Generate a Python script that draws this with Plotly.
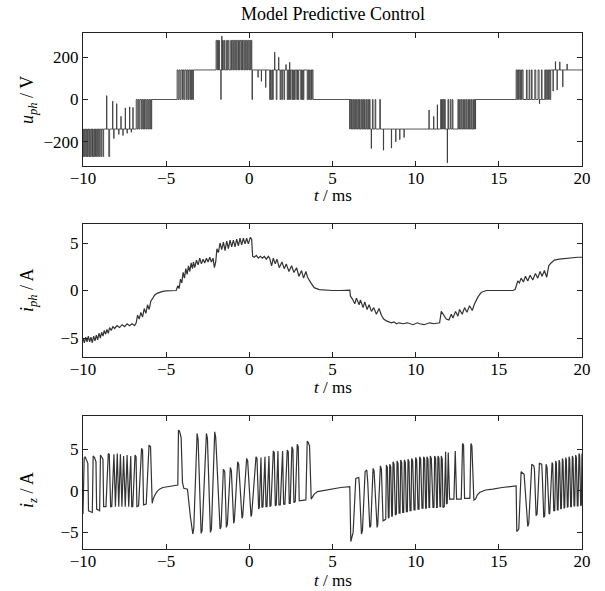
import plotly.graph_objects as go

# ---------------- u_ph (phase voltage, V) ----------------
# base level changes (t in ms, level in V)
U_BASE_T = [-10.0, -5.87, -3.36, 3.83, 6.04, 13.60, 18.12]
U_BASE_V = [-140, 0, 140, 0, -140, 0, 140]

# switching pulses (start, end) and their level
U_P_M270 = [(-10.00, -9.96), (-9.92, -9.87), (-9.83, -9.78), (-9.74, -9.70), (-9.65, -9.60),
            (-9.57, -9.52), (-9.47, -9.43), (-9.39, -9.34), (-9.30, -9.25), (-9.21, -9.17),
            (-9.12, -9.08), (-9.03, -8.99), (-8.93, -8.88), (-8.80, -8.76), (-8.45, -8.40)]
U_P_0A = [(-6.80, -6.74), (-6.68, -6.63), (-6.58, -6.50), (-6.46, -6.41), (-6.36, -6.30),
          (-6.26, -6.20), (-6.15, -6.10), (-6.05, -5.99), (-5.95, -5.90)]
U_P_140A = [(-4.34, -4.28), (-4.22, -4.16), (-4.10, -4.02), (-3.98, -3.93), (-3.88, -3.80),
            (-3.76, -3.70), (-3.65, -3.58), (-3.54, -3.48), (-3.44, -3.40)]
U_P_280 = [(-2.00, -1.95), (-1.91, -1.86), (-1.83, -1.79), (-1.61, -1.56), (-1.50, -1.46),
           (-1.37, -1.32), (-1.27, -1.22), (-1.12, -1.07), (-1.03, -0.98), (-0.94, -0.88),
           (-0.84, -0.79), (-0.75, -0.69), (-0.65, -0.60), (-0.56, -0.50), (-0.46, -0.41),
           (-0.37, -0.31), (-0.27, -0.22), (-0.18, -0.12), (-0.08, -0.03), (0.02, 0.08),
           (0.11, 0.15)]
U_P_0B = [(0.16, 0.19), (1.22, 1.27), (1.31, 1.36), (1.40, 1.44), (1.62, 1.66), (1.85, 1.89),
          (1.95, 1.99), (2.08, 2.12), (2.28, 2.32), (2.36, 2.41), (2.44, 2.48), (2.56, 2.60),
          (2.64, 2.68), (2.71, 2.76), (2.85, 2.89), (2.93, 2.97), (3.09, 3.13), (3.17, 3.21),
          (3.24, 3.28), (3.48, 3.53), (3.57, 3.61), (3.65, 3.70), (3.74, 3.78)]
U_P_0C = [(6.04, 6.10), (6.14, 6.19), (6.24, 6.28), (6.33, 6.38), (6.43, 6.47), (6.52, 6.57),
          (6.62, 6.66), (6.72, 6.76), (6.81, 6.86), (6.92, 6.96), (7.02, 7.06), (7.12, 7.16),
          (7.22, 7.26), (7.40, 7.44), (7.56, 7.60), (7.84, 7.88),
          (11.50, 11.55), (11.58, 11.62), (11.66, 11.70), (11.74, 11.78), (11.94, 11.98),
          (12.08, 12.12), (12.20, 12.24), (12.54, 12.58), (12.64, 12.68), (12.74, 12.78),
          (12.84, 12.88), (12.94, 12.98), (13.04, 13.08), (13.14, 13.18), (13.24, 13.28),
          (13.34, 13.38), (13.44, 13.48), (13.54, 13.58)]
U_P_140B = [(16.04, 16.09), (16.13, 16.18), (16.22, 16.27), (16.31, 16.36), (16.40, 16.46),
            (16.66, 16.70), (16.82, 16.86), (16.96, 17.00), (17.16, 17.22), (17.36, 17.42),
            (17.56, 17.60), (17.76, 17.81), (17.85, 17.90), (17.94, 17.99), (18.03, 18.08)]
# narrow spikes (t, value)
U_SPIKES = [(-8.58, 18), (-8.22, -8), (-8.15, -185), (-7.98, -20), (-7.85, -165), (-7.72, -80),
            (-7.60, -170), (-7.46, -40), (-7.35, -160), (-7.20, -35), (-7.10, -155), (-7.00, -38),
            (-1.71, 0), (-1.66, 300), (0.52, 105), (0.72, 86), (0.98, 57), (1.52, 224),
            (1.76, 200), (2.20, 165), (2.42, 176), (7.33, -232), (8.06, -240), (8.54, -230),
            (8.80, -200), (9.04, -190), (9.30, -180), (10.80, -50), (11.08, -80), (11.30, -25),
            (11.90, -300), (17.44, -20), (18.26, 40), (18.40, 180), (18.50, 45), (18.66, 178),
            (18.84, 60), (19.10, 168)]

# ---------------- i_ph (phase current, A) ----------------
IPH_T = [-10.00, -9.92, -9.84, -9.76, -9.68, -9.60, -9.52, -9.44, -9.36, -9.28, -9.20, -9.12,
         -9.04, -8.96, -8.88, -8.80, -8.72, -8.64, -8.56, -8.48, -8.40, -8.30, -8.20, -8.10,
         -7.95, -7.80, -7.65, -7.50, -7.35, -7.20, -7.05, -6.90, -6.80, -6.72, -6.62, -6.52,
         -6.42, -6.32, -6.22, -6.12, -6.02, -5.92, -5.80, -5.70, -5.55, -5.40, -5.20, -5.00,
         -4.70, -4.40, -4.30, -4.22, -4.14, -4.06, -3.98, -3.90, -3.82, -3.74, -3.66, -3.58,
         -3.50, -3.42, -3.36, -3.28, -3.18, -3.08, -2.98, -2.88, -2.78, -2.68, -2.58, -2.48,
         -2.38, -2.28, -2.18, -2.10, -2.02, -1.95, -1.86, -1.76, -1.66, -1.56, -1.46, -1.36,
         -1.26, -1.16, -1.06, -0.96, -0.86, -0.76, -0.66, -0.56, -0.46, -0.36, -0.26, -0.16,
         -0.06, 0.06, 0.14, 0.20, 0.30, 0.42, 0.54, 0.66, 0.78, 0.90, 1.02, 1.14, 1.22, 1.34,
         1.44, 1.56, 1.66, 1.80, 1.96, 2.10, 2.22, 2.38, 2.54, 2.68, 2.84, 2.98, 3.14, 3.26,
         3.40, 3.50, 3.70, 3.90, 4.20, 4.50, 5.00, 5.50, 6.04, 6.08, 6.20, 6.34, 6.44, 6.60,
         6.68, 6.84, 6.94, 7.08, 7.20, 7.34, 7.48, 7.64, 7.80, 7.94, 8.08, 8.24, 8.40, 8.54,
         8.70, 8.84, 9.00, 9.24, 9.50, 9.84, 10.10, 10.24, 10.50, 10.84, 11.10, 11.44, 11.54,
         11.68, 11.84, 12.00, 12.14, 12.24, 12.40, 12.54, 12.64, 12.80, 12.94, 13.08, 13.24,
         13.40, 13.54, 13.74, 13.94, 14.24, 15.04, 15.84, 15.98, 16.14, 16.24, 16.34, 16.48,
         16.60, 16.74, 16.88, 17.04, 17.20, 17.34, 17.48, 17.60, 17.74, 17.88, 18.00, 18.14,
         18.34, 18.64, 19.04, 19.44, 19.74, 20.00]
IPH_V = [-5.0, -5.5, -4.9, -5.4, -4.8, -5.4, -4.9, -5.5, -4.8, -5.3, -4.7, -5.2,
         -4.5, -5.0, -4.4, -4.8, -4.2, -4.6, -4.1, -4.5, -3.9, -4.2, -3.8, -4.0,
         -3.7, -3.9, -3.6, -3.8, -3.5, -3.7, -3.5, -3.7, -3.4, -2.6, -3.0, -2.3,
         -2.8, -1.9, -2.4, -1.5, -2.0, -1.1, -0.8, -0.5, -0.3, -0.2, -0.1, -0.05,
         0.0, 0.0, 0.5, 0.2, 1.2, 0.8, 1.9, 1.3, 2.3, 1.7, 2.6, 2.0,
         2.9, 2.3, 3.0, 2.4, 3.2, 2.7, 3.4, 2.8, 3.3, 2.9, 3.4, 3.0,
         3.5, 3.0, 3.4, 2.4, 3.0, 4.4, 4.0, 5.0, 4.3, 5.1, 4.2, 5.2,
         4.4, 5.3, 4.6, 5.3, 4.6, 5.4, 4.7, 5.5, 4.8, 5.5, 4.9, 5.5,
         4.9, 5.6, 5.4, 3.6, 3.5, 3.7, 3.4, 3.6, 3.4, 3.6, 3.3, 3.6, 3.4, 2.6,
         3.4, 2.8, 3.3, 2.4, 3.0, 2.3, 2.8, 2.0, 2.6, 1.9, 2.4, 1.5, 2.1, 1.3,
         2.0, 1.4, 0.8, 0.3, 0.1, 0.05, 0.0, 0.0, 0.05, -0.6, -0.9, -1.4, -0.8, -1.5,
         -1.0, -1.8, -1.2, -2.0, -1.5, -2.2, -1.8, -2.5, -1.9, -2.6, -3.0, -3.2, -3.3, -3.4,
         -3.3, -3.5, -3.4, -3.5, -3.4, -3.6, -3.4, -3.5, -3.6, -3.4, -3.5, -3.4, -2.2,
         -2.6, -3.0, -3.1, -2.5, -2.9, -2.2, -2.7, -2.0, -2.5, -1.8, -2.3, -1.6,
         -2.1, -1.4, -0.7, -0.2, 0.0, 0.0, 0.0, 0.1, 1.0, 0.8, 1.3, 0.9,
         1.5, 1.0, 1.6, 1.1, 1.8, 1.3, 2.0, 1.5, 2.1, 1.4, 2.6, 2.9,
         3.2, 3.3, 3.4, 3.5, 3.5, 3.5]

# ---------------- i_z (A) ----------------
IZ_SEG1 = [(-10.00, -2.8), (-9.93, 3.9), (-9.87, 4.1), (-9.76, 3.6), (-9.71, 3.3), (-9.67, -2.4),
           (-9.50, -2.6), (-9.44, -2.6), (-9.39, 4.2), (-9.31, 4.0), (-9.22, 3.5), (-9.18, -2.2),
           (-9.00, -2.4), (-8.95, 4.3), (-8.86, 4.0), (-8.80, 3.8), (-8.76, -1.9), (-8.62, -1.9),
           (-8.48, 4.5), (-8.42, 4.4), (-8.34, -1.9), (-8.27, -1.9), (-8.14, 4.4), (-8.09, -1.9),
           (-8.05, -1.9), (-7.94, 4.5), (-7.89, -1.9), (-7.85, -1.9), (-7.75, 4.4), (-7.70, -1.9),
           (-7.66, -1.9), (-7.56, 4.2), (-7.50, -1.9), (-7.46, -1.9), (-7.35, 4.3), (-7.29, -1.9),
           (-7.25, -1.9), (-7.13, 4.2), (-7.07, -1.9), (-7.01, -1.9), (-6.87, 4.3), (-6.81, 4.1),
           (-6.76, -1.9), (-6.66, -1.8), (-6.52, 4.8), (-6.48, 5.1), (-6.42, 4.9), (-6.36, -1.7),
           (-6.20, -1.6), (-6.08, 5.0), (-6.03, 5.5), (-5.94, 5.3), (-5.84, -1.5), (-5.78, -1.0),
           (-5.68, -0.5), (-5.55, -0.1), (-5.40, 0.2), (-5.20, 0.4), (-4.90, 0.5), (-4.60, 0.6),
           (-4.30, 0.7)]
IZ_SEG2 = [(-4.26, 7.3), (-4.20, 7.2), (-4.10, 6.4), (-4.02, 1.0), (-3.94, 0.3), (-3.72, 0.2),
           (-3.55, -3.0), (-3.40, -5.2), (-3.34, -4.5), (-3.14, 6.9), (-3.08, 6.2), (-2.90, -5.1),
           (-2.84, -4.8), (-2.58, 6.9), (-2.52, 6.3), (-2.34, -5.0), (-2.28, -4.6), (-2.08, 7.1),
           (-2.02, 6.4), (-1.76, -4.6), (-1.70, -4.3), (-1.56, 2.6), (-1.48, 2.3), (-1.38, -4.4),
           (-1.32, -4.0), (-1.14, 2.8), (-1.08, 2.4), (-0.94, -3.9), (-0.90, -3.6), (-0.70, 3.5),
           (-0.64, 3.2), (-0.44, -3.3), (-0.40, -3.1), (-0.16, 3.9), (-0.10, 3.6), (0.10, -3.1),
           (0.14, -2.9), (0.40, 4.1), (0.46, 3.9), (0.56, -2.2), (0.60, -2.0), (0.70, 4.0),
           (0.76, -2.0), (0.82, -1.9), (0.94, 4.1), (1.00, -1.9), (1.06, -1.9), (1.18, 4.2),
           (1.24, -1.9), (1.30, -1.8), (1.44, 4.8), (1.50, 4.6), (1.56, -1.8), (1.62, -1.7),
           (1.72, 4.8), (1.78, -1.7), (1.86, -1.7), (2.00, 4.8), (2.06, -1.6), (2.14, -1.6),
           (2.28, 4.9), (2.34, 4.7), (2.40, -1.5), (2.46, -1.5), (2.56, 5.3), (2.62, 5.0),
           (2.68, -1.4), (2.76, -1.3), (2.88, 5.6), (2.94, 5.3), (3.00, -1.2), (3.40, -1.1),
           (3.48, 6.0), (3.54, 5.8), (3.62, 5.4), (3.72, -1.0), (3.78, -0.8), (3.90, -0.4),
           (4.10, -0.1), (4.40, 0.0), (4.84, 0.2), (5.50, 0.4), (6.04, 0.5)]
IZ_SEG3 = [(6.10, -6.1), (6.24, -5.0), (6.36, 0.8), (6.40, 1.5), (6.58, 1.6), (6.62, 0.5),
           (6.74, -5.2), (6.80, -4.8), (6.96, 2.3), (7.06, 2.5), (7.12, 1.0), (7.24, -4.4),
           (7.30, -4.2), (7.44, 2.7), (7.50, 2.4), (7.68, -4.4), (7.72, -4.1), (7.88, 3.0),
           (7.94, 2.6), (8.04, -3.6), (8.14, -3.5), (8.20, -3.4), (8.24, 3.1), (8.30, 2.8),
           (8.36, -3.3), (8.40, -3.2), (8.44, 3.2), (8.50, 2.9), (8.56, -3.1), (8.60, -3.0),
           (8.64, 3.5), (8.70, 3.2), (8.78, -2.9), (8.84, -2.8), (8.88, 3.6), (8.94, 3.3),
           (9.00, -2.7), (9.06, -2.7), (9.10, 3.7), (9.16, 3.4), (9.22, -2.6), (9.28, -2.6),
           (9.32, 3.7), (9.38, 3.4), (9.44, -2.5), (9.50, -2.5), (9.54, 3.8), (9.60, 3.5),
           (9.66, -2.4), (9.72, -2.4), (9.76, 3.9), (9.82, 3.6), (9.90, -2.3), (9.96, -2.3),
           (10.00, 4.0), (10.06, 3.7), (10.14, -2.2), (10.20, -2.2), (10.24, 4.1), (10.30, 3.8),
           (10.38, -2.1), (10.44, -2.1), (10.48, 4.1), (10.54, 3.8), (10.60, -2.1), (10.64, -2.1),
           (10.68, 4.1), (10.74, 3.8), (10.80, -2.0), (10.84, -2.0), (10.88, 4.2), (10.94, 3.9),
           (11.04, -2.0), (11.10, -2.0), (11.14, 4.2), (11.20, 3.9), (11.26, -2.0), (11.30, -2.0),
           (11.34, 4.2), (11.40, 3.9), (11.46, -1.9), (11.50, -1.9), (11.54, 4.2), (11.60, 3.8),
           (11.64, -2.0), (11.72, -1.9), (11.80, 4.7), (11.85, -1.6), (11.90, -1.5), (11.96, 4.6),
           (12.04, -1.0), (12.30, -1.0), (12.38, 4.8), (12.46, -1.0), (12.74, -1.0), (12.82, 5.7),
           (12.88, 5.5), (12.94, -0.9), (13.26, -0.9), (13.32, 5.7), (13.38, 5.4), (13.50, -1.1),
           (13.60, -1.0), (13.70, -0.5), (13.84, -0.2), (14.20, 0.1), (14.64, 0.2), (15.20, 0.4),
           (16.04, 0.6)]
IZ_SEG4 = [(16.08, -4.9), (16.20, -4.6), (16.30, 1.5), (16.34, 2.3), (16.52, 2.0), (16.58, 0.5),
           (16.74, -4.3), (16.80, -3.9), (16.96, 3.0), (16.98, 3.2), (17.10, 3.0), (17.14, 2.6),
           (17.24, -3.0), (17.30, -2.8), (17.44, 3.3), (17.58, 3.2), (17.62, 1.5), (17.70, -3.2),
           (17.76, -3.0), (17.84, 3.2), (17.90, 2.8), (18.02, -2.8), (18.06, -2.7), (18.20, 3.4),
           (18.24, 3.2), (18.30, -2.4), (18.36, -2.4), (18.42, 3.6), (18.46, 3.3), (18.52, -2.3),
           (18.56, -2.3), (18.62, 3.7), (18.66, 3.4), (18.72, -2.2), (18.76, -2.1), (18.82, 3.9),
           (18.86, 3.6), (18.92, -2.1), (18.96, -2.0), (19.02, 4.0), (19.06, 3.7), (19.12, -2.0),
           (19.16, -1.9), (19.22, 4.1), (19.26, 3.8), (19.32, -1.9), (19.36, -1.9), (19.42, 4.2),
           (19.46, 3.9), (19.52, -1.8), (19.56, -1.8), (19.62, 4.3), (19.66, 4.0), (19.72, -1.8),
           (19.76, -1.8), (19.82, 4.5), (19.86, 4.2), (19.92, -1.8), (19.96, -1.7), (20.00, 4.5)]

X_TICKS = [-10, -5, 0, 5, 10, 15, 20]
Y1_TICKS = [-200, 0, 200]
Y2_TICKS = [-5, 0, 5]
Y3_TICKS = [-5, 0, 5]

TITLE = "Model Predictive Control"

# ---------- build step signal for u_ph ----------
def base_at(t):
    lvl = U_BASE_V[0]
    for t0, v in zip(U_BASE_T, U_BASE_V):
        if t0 <= t + 1e-9:
            lvl = v
    return lvl

events = [(t, v) for t, v in zip(U_BASE_T, U_BASE_V)]
for plist, lvl in [(U_P_M270, -270), (U_P_0A, 0), (U_P_140A, 140), (U_P_280, 280),
                   (U_P_0B, 0), (U_P_0C, 0), (U_P_140B, 140)]:
    for a, b in plist:
        events.append((a, lvl))
        events.append((b, base_at(b)))
for t, v in U_SPIKES:
    events.append((t, v))
    events.append((t + 0.012, base_at(t + 0.012)))
events.sort(key=lambda e: e[0])
ux = [e[0] for e in events] + [20.0]
uy = [e[1] for e in events] + [events[-1][1]]

iz = IZ_SEG1 + IZ_SEG2 + IZ_SEG3 + IZ_SEG4
izx = [p[0] for p in iz]
izy = [p[1] for p in iz]

LINE = dict(color="#333333", width=1.2)
FONT = "Liberation Serif, Times New Roman, serif"

fig = go.Figure()
fig.add_trace(go.Scatter(x=ux, y=uy, mode="lines",
                         line=dict(shape="hv", color="#363636", width=0.85),
                         xaxis="x", yaxis="y", showlegend=False))
fig.add_trace(go.Scatter(x=IPH_T, y=IPH_V, mode="lines", line=LINE,
                         xaxis="x2", yaxis="y2", showlegend=False))
fig.add_trace(go.Scatter(x=izx, y=izy, mode="lines", line=LINE,
                         xaxis="x3", yaxis="y3", showlegend=False))

def pf(py):  # pixel y -> paper
    return (549 - py) / 516.0

axis_common = dict(showline=True, linecolor="#222", linewidth=1, mirror="ticks",
                   ticks="inside", ticklen=5, tickcolor="#222", showgrid=False,
                   zeroline=False, tickfont=dict(family=FONT, size=17, color="black"))
xax = dict(range=[-10, 20], tickvals=X_TICKS, ticklabelstandoff=-3, **axis_common)

fig.update_layout(
    width=605, height=591,
    margin=dict(l=83, r=23, t=33, b=42),
    paper_bgcolor="white", plot_bgcolor="white",
    xaxis=dict(domain=[0, 1], anchor="y", **xax),
    yaxis=dict(domain=[pf(166), 1.0], range=[-315, 315], tickvals=Y1_TICKS, anchor="x", **axis_common),
    xaxis2=dict(domain=[0, 1], anchor="y2", **xax),
    yaxis2=dict(domain=[pf(357), pf(224)], range=[-7, 7], tickvals=Y2_TICKS, anchor="x2", **axis_common),
    xaxis3=dict(domain=[0, 1], anchor="y3", **xax),
    yaxis3=dict(domain=[0, pf(416)], range=[-7, 9], tickvals=Y3_TICKS, anchor="x3", **axis_common),
)

ann_font = dict(family=FONT, size=17, color="black")
anns = [
    dict(text=TITLE, x=0.5, y=pf(14), xref="paper", yref="paper", showarrow=False,
         font=dict(family=FONT, size=18, color="black"), xanchor="center", yanchor="middle"),
]
for py in (195, 387, 580):
    anns.append(dict(text="<i>t</i> / ms", x=0.5, y=pf(py), xref="paper", yref="paper",
                     showarrow=False, font=ann_font, xanchor="center", yanchor="middle"))
for txt, py in (("<i>u</i><sub><i>ph</i></sub> / V", 100), ("<i>i</i><sub><i>ph</i></sub> / A", 290),
                ("<i>i</i><sub><i>z</i></sub> / A", 490)):
    anns.append(dict(text=txt, x=(28 - 83) / 499.0, y=pf(py), xref="paper", yref="paper",
                     showarrow=False, font=dict(family=FONT, size=18, color="black"), textangle=-90,
                     xanchor="center", yanchor="middle"))
fig.update_layout(annotations=anns)

fig.write_html("out.html", config={"displayModeBar": False},
               post_script="document.body.style.margin='0px';")
